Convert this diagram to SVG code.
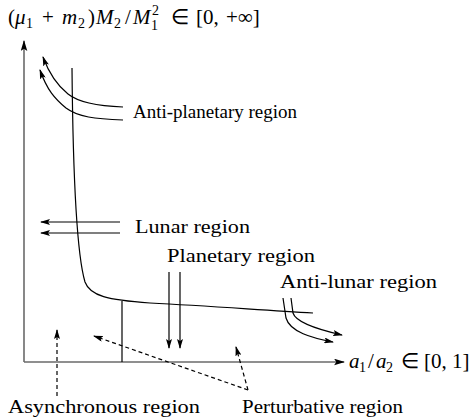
<svg xmlns="http://www.w3.org/2000/svg" width="475" height="418" viewBox="0 0 475 418">
<defs>
<style>
.t{font-family:"Liberation Serif","Times New Roman",serif;font-size:19px;fill:#000}
.m{font-family:"Liberation Serif","Times New Roman",serif;font-size:21px;fill:#000}
.i{font-style:italic}
.s{font-size:14px}
.ax{stroke:#6a6a6a;stroke-width:1.6;fill:none}
.ln{stroke:#000;stroke-width:1.2;fill:none}
.dl{stroke:#000;stroke-width:1.2;fill:none;stroke-dasharray:4 3}
</style>
<marker id="ah" viewBox="0 0 10 6" refX="9" refY="3" markerWidth="10" markerHeight="6" markerUnits="userSpaceOnUse" orient="auto">
<path d="M0,0 L10,3 L0,6 L2,3 Z" fill="#000"/>
</marker>
<marker id="ahg" viewBox="0 0 10 6" refX="9" refY="3" markerWidth="11" markerHeight="7" markerUnits="userSpaceOnUse" orient="auto">
<path d="M0,0 L10,3 L0,6 L2,3 Z" fill="#000"/>
</marker>
</defs>
<g id="connectors">
<path id="y-axis" class="ax" d="M24,362 L24,41" marker-end="url(#ahg)"/>
<path id="x-axis" class="ax" d="M24,362 L344,362" marker-end="url(#ahg)"/>
<path id="main-curve" class="ln" d="M72,68 C73,180 77,255 85,282 C90,296 108,300 150,303 C210,306 260,310 313,313"/>
<path id="divider" class="ln" d="M122,301 L122,362"/>
<path class="ln" d="M123,107 C95,106 78,102 68,94 C58,86 50,76 43,57" marker-end="url(#ah)"/>
<path class="ln" d="M123,120 C95,119 78,117 66,108 C55,99 47,90 40,70" marker-end="url(#ah)"/>
<path class="ln" d="M120,222 L41,222" marker-end="url(#ah)"/>
<path class="ln" d="M120,233 L41,233" marker-end="url(#ah)"/>
<path class="ln" d="M169,272 L169,348" marker-end="url(#ah)"/>
<path class="ln" d="M180,272 L180,348" marker-end="url(#ah)"/>
<path class="ln" d="M291,298 L293,313 C296,323 320,330 342,335" marker-end="url(#ah)"/>
<path class="ln" d="M283,298 L286,318 C290,332 312,338 333,342" marker-end="url(#ah)"/>
<path class="dl" d="M57,396 L57,330" marker-end="url(#ah)"/>
<path class="dl" d="M248,390 L94,336" marker-end="url(#ah)"/>
<path class="dl" d="M248,390 L236,347" marker-end="url(#ah)"/>
</g>
<g id="y-label" class="m">
<text x="8" y="24">(</text>
<text class="i" x="15" y="24">μ</text>
<text class="s" x="26" y="28">1</text>
<text x="42" y="24">+</text>
<text class="i" x="62" y="24">m</text>
<text class="s" x="78" y="28">2</text>
<text x="88" y="24">)</text>
<text class="i" x="96" y="24">M</text>
<text class="s" x="114" y="28">2</text>
<text x="125" y="24">/</text>
<text class="i" x="133" y="24">M</text>
<text class="s" x="152" y="15">2</text>
<text class="s" x="151" y="30">1</text>
<text x="171" y="24">∈</text>
<text x="196" y="24">[0,</text>
<text x="226" y="24">+∞]</text>
</g>
<g id="x-label" class="m">
<text class="i" x="349" y="368">a</text>
<text class="s" x="359" y="372">1</text>
<text x="368" y="368">/</text>
<text class="i" x="376" y="368">a</text>
<text class="s" x="386" y="372">2</text>
<text x="401" y="368">∈</text>
<text x="424" y="368">[0, 1]</text>
</g>
<g id="anti-planetary"><text class="t" x="133" y="118" textLength="164" lengthAdjust="spacingAndGlyphs">Anti-planetary region</text></g>
<g id="lunar"><text class="t" x="135" y="233" textLength="115" lengthAdjust="spacingAndGlyphs">Lunar region</text></g>
<g id="planetary"><text class="t" x="167" y="262" textLength="148" lengthAdjust="spacingAndGlyphs">Planetary region</text></g>
<g id="anti-lunar"><text class="t" x="280" y="288" textLength="157" lengthAdjust="spacingAndGlyphs">Anti-lunar region</text></g>
<g id="asynchronous"><text class="t" x="8" y="413" textLength="192" lengthAdjust="spacingAndGlyphs">Asynchronous region</text></g>
<g id="perturbative"><text class="t" x="242" y="413" textLength="161" lengthAdjust="spacingAndGlyphs">Perturbative region</text></g>
</svg>
